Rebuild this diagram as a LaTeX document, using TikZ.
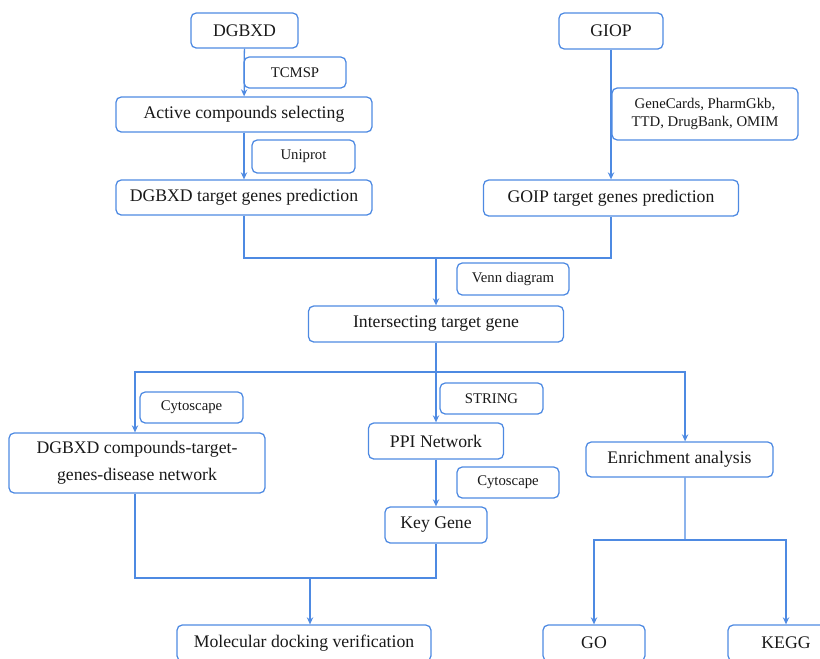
\documentclass[tikz,border=0pt]{standalone}
\usepackage{fontspec}
\setmainfont{Liberation Serif}
\usepackage{xcolor}
\usetikzlibrary{positioning,arrows.meta,calc}
\definecolor{flowblue}{RGB}{78,138,226}

\begin{document}
\begin{tikzpicture}[x=0.25mm, y=-0.25mm, >={Stealth[length=5pt,width=4.5pt]},
  line width=0.9pt, draw=flowblue,
  box/.style={draw=flowblue, rounded corners=1.3mm, align=center, inner sep=0pt,
    font=\fontsize{12.6}{19}\selectfont, text=black!90},
  tool/.style={box, font=\fontsize{10.5}{12.8}\selectfont},
  link/.style={draw=flowblue, line width=0.9pt}]
\clip (0,0) rectangle (820,658);
\useasboundingbox (0,0) rectangle (820,658);
% left branch: formula
\node[box, minimum width=26.75mm, minimum height=8.75mm] (dgbxd) at (244.5,30.5) {DGBXD};
\node[tool, minimum width=25.5mm, minimum height=7.75mm] (tcmsp) at (295,72.5) {TCMSP};
\node[box, minimum width=64mm, minimum height=8.75mm] (active) at (244,114.5) {Active compounds selecting};
\node[tool, minimum width=25.75mm, minimum height=8.25mm] (uniprot) at (303.5,156.5) {Uniprot};
\node[box, minimum width=64mm, minimum height=8.75mm] (dpred) at (244,197.5) {DGBXD target genes prediction};
% right branch: disease
\node[box, minimum width=26mm, minimum height=9mm] (giop) at (611,31) {GIOP};
\node[tool, minimum width=46.5mm, minimum height=13mm] (dbs) at (705,114) {GeneCards, PharmGkb,\\TTD, DrugBank, OMIM};
\node[box, minimum width=63.75mm, minimum height=9mm] (gpred) at (611,198) {GOIP target genes prediction};
% intersection
\node[tool, minimum width=28mm, minimum height=8mm] (venn) at (513,279) {Venn diagram};
\node[box, minimum width=63.75mm, minimum height=9mm] (inter) at (436,324) {Intersecting target gene};
% analyses
\node[tool, minimum width=25.75mm, minimum height=7.75mm] (cyto1) at (191.5,407.5) {Cytoscape};
\node[box, minimum width=64mm, minimum height=15mm] (net) at (137,463) {DGBXD compounds-target-\\genes-disease network};
\node[tool, minimum width=25.75mm, minimum height=7.75mm] (string) at (491.5,398.5) {STRING};
\node[box, minimum width=33.75mm, minimum height=9mm] (ppi) at (436,441) {PPI Network};
\node[tool, minimum width=25.5mm, minimum height=7.75mm] (cyto2) at (508,482.5) {Cytoscape};
\node[box, minimum width=25.5mm, minimum height=9mm] (key) at (436,525) {Key Gene};
\node[box, minimum width=46.75mm, minimum height=8.75mm] (enrich) at (679.5,459.5) {Enrichment analysis};
\node[box, minimum width=63.5mm, minimum height=9mm] (dock) at (304,643) {Molecular docking verification};
\node[box, minimum width=25.5mm, minimum height=9mm] (go) at (594,643) {GO};
\node[box, minimum width=29mm, minimum height=9mm] (kegg) at (786,643) {KEGG};
% junctions
\coordinate (m1) at (436,258);
\coordinate (m2) at (436,372);
\coordinate (m3) at (310,578);
\coordinate (m4) at (685,540);
% connectors
\draw[link,->] (dgbxd) -- (active);
\draw[link,->] (active) -- (dpred);
\draw[link,->] (giop.south -| gpred.north) -- (gpred.north);
\draw[link] (dpred.south) |- (m1) -| (gpred.south);
\draw[link,->] (m1) -- (inter);
\draw[link] (inter) -- (m2);
\draw[link,->] (m2) -| ([xshift=-0.5mm]net.north);
\draw[link,->] (m2) -| ([xshift=1.4mm]enrich.north);
\draw[link,->] (m2) -- (ppi);
\draw[link,->] (ppi) -- (key);
\draw[link] ([xshift=-0.5mm]net.south) |- (m3) -| (key.south);
\draw[link,->] (m3) -- (m3 |- dock.north);
\draw[link] ([xshift=1.4mm]enrich.south) -- (m4);
\draw[link,->] (m4) -| (go.north);
\draw[link,->] (m4) -| (kegg.north);
\end{tikzpicture}
\end{document}
